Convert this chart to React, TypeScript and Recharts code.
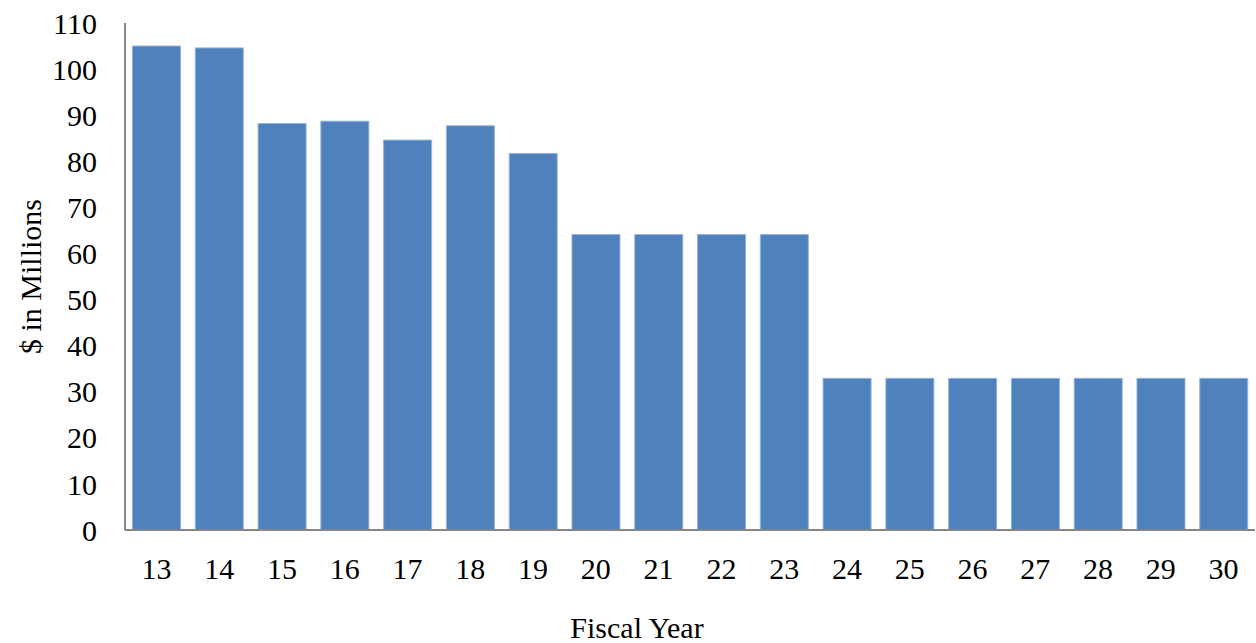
import { BarChart, Bar, XAxis, YAxis } from 'recharts'

const years = ['13', '14', '15', '16', '17', '18', '19', '20', '21', '22', '23', '24', '25', '26', '27', '28', '29', '30']
const amounts = [105, 104.6, 88.2, 88.7, 84.6, 87.7, 81.7, 64.1, 64.1, 64.1, 64.1, 32.9, 32.9, 32.9, 32.9, 32.9, 32.9, 32.9]
const yTicks = [0, 10, 20, 30, 40, 50, 60, 70, 80, 90, 100, 110]

const data = years.map((year, i) => ({ year, amount: amounts[i] }))

const font = { fontFamily: '"Liberation Serif", "Times New Roman", serif', fontSize: 30, fill: '#000' }

const App = () => {
  return (
    <div style={{ position: 'absolute', left: 0, top: 0 }}>
      <BarChart
        width={1256}
        height={643}
        data={data}
        margin={{ top: 23, right: 1, left: 0, bottom: 0 }}
        barCategoryGap="12%"
      >
        <XAxis
          dataKey="year"
          height={113}
          axisLine={{ stroke: '#868686', strokeWidth: 2 }}
          tickLine={false}
          tickSize={0}
          tickMargin={28}
          tick={font}
          label={{ value: 'Fiscal Year', position: 'insideBottom', offset: 5, dx: -53, style: font }}
        />
        <YAxis
          width={125}
          domain={[0, 110]}
          ticks={yTicks}
          interval={0}
          axisLine={{ stroke: '#868686', strokeWidth: 2 }}
          tickLine={false}
          tickSize={0}
          tickMargin={28}
          tick={font}
          label={{ value: '$ in Millions', angle: -90, position: 'center', dx: -32, style: font }}
        />
        <Bar dataKey="amount" fill="#4F81BD" stroke="#95B3D7" strokeWidth={1} isAnimationActive={false} />
      </BarChart>
    </div>
  )
}

export default App
